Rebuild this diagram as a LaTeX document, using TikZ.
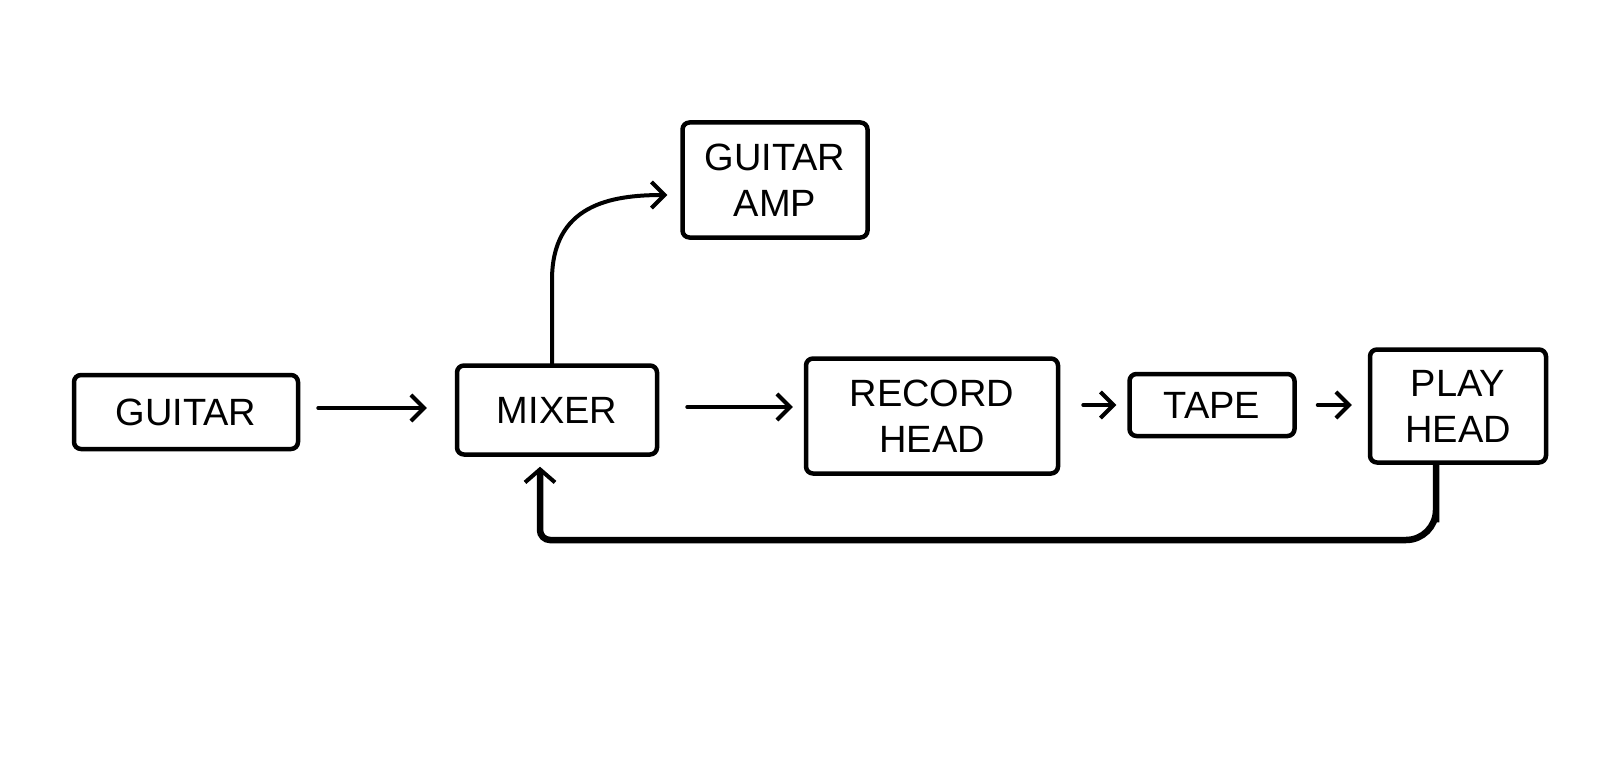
\documentclass[tikz,border=0pt]{standalone}
\usepackage{fontspec}
\setmainfont{Liberation Sans}
\usetikzlibrary{arrows.meta}
\begin{document}
\begin{tikzpicture}[x=1pt,y=-1pt,
  box/.style={draw, line width=4.5pt, rounded corners=7pt, align=center,
    font=\fontsize{38}{46}\selectfont, inner sep=0pt},
  conn/.style={line width=4pt, line cap=round,
    -{Straight Barb[length=13pt,width=26pt,line width=4pt]}},
  fb/.style={line width=6.5pt, line cap=round,
    -{Straight Barb[length=13pt,width=30pt,line width=4pt]}}]
\useasboundingbox (0,0) rectangle (1609,773);
\node[box, minimum width=224pt, minimum height=74pt] (guitar) at (186,412) {GUITAR};
\node[box, minimum width=200pt, minimum height=89pt] (mixer) at (557,410) {MIXER};
\node[box, minimum width=185pt, minimum height=115pt] (amp) at (775,180) {GUITAR\\AMP};
\node[box, minimum width=252pt, minimum height=115pt] (record) at (932,416) {RECORD\\HEAD};
\node[box, minimum width=165pt, minimum height=62pt] (tape) at (1212,405) {TAPE};
\node[box, minimum width=176pt, minimum height=113pt] (play) at (1458,406) {PLAY\\HEAD};
% main chain
\draw[conn, shorten <=18pt, shorten >=28pt] ([yshift=4pt]guitar.east) -- ([yshift=4pt]guitar.east -| mixer.west);
\draw[conn, shorten <=28pt, shorten >=11pt] ([yshift=3pt]mixer.east) -- ([yshift=3pt]mixer.east -| record.west);
\draw[conn, shorten <=23pt, shorten >=11pt] (record.east |- tape.west) -- (tape.west);
\draw[conn, shorten <=21pt, shorten >=16pt] (tape.east) -- (tape.east -| play.west);
% to amp
\coordinate (ampin) at ([yshift=-15pt]amp.west);
\coordinate (ampbend) at ([xshift=-5pt]mixer.north |- 0,280);
\draw[conn, shorten >=13pt] ([xshift=-5pt]mixer.north) -- (ampbend)
  .. controls ([yshift=75pt]ampbend) and ([xshift=-70pt]ampin) .. (ampin);
% feedback
\coordinate (fbr) at ([xshift=-22pt]play.south);
\coordinate (fbl) at ([xshift=-17pt]mixer.south);
\coordinate (fbb) at (1436,540);
\draw[fb, shorten >=10pt] (fbr) [rounded corners=30pt] |- (fbb) [rounded corners=10pt] -| (fbl);
\end{tikzpicture}
\end{document}
